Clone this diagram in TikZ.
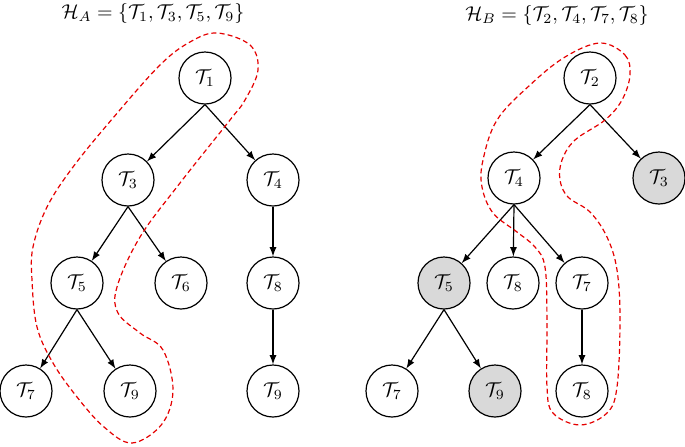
\documentclass[tikz,border=0pt]{standalone}
\usepackage{tikz}
\usepackage{amssymb}
\colorlet{hullred}{red!90!black}
\colorlet{shaded}{gray!30}
\tikzset{
  tnode/.style={circle, draw=black, semithick, minimum size=26pt, inner sep=1pt},
  tshade/.style={tnode, fill=shaded},
  tedge/.style={-latex, semithick},
  hull/.style={draw=hullred, semithick, dash pattern=on 2.5pt off 1.6pt},
}

\begin{document}
\begin{tikzpicture}[x=0.5pt, y=-0.5pt]
\useasboundingbox (0,0) rectangle (685,446);
% titles
\node (hA) at (153,13) {$\mathcal{H}_A=\{\mathcal{T}_1,\mathcal{T}_3,\mathcal{T}_5,\mathcal{T}_9\}$};
\node (hB) at (557,15) {$\mathcal{H}_B=\{\mathcal{T}_2,\mathcal{T}_4,\mathcal{T}_7,\mathcal{T}_8\}$};
% left tree
\node[tnode] (a1) at (205,78) {$\mathcal{T}_1$};
\node[tnode] (a3) at (128,180) {$\mathcal{T}_3$};
\node[tnode] (a4) at (273,180) {$\mathcal{T}_4$};
\node[tnode] (a5) at (77,283) {$\mathcal{T}_5$};
\node[tnode] (a6) at (181,283) {$\mathcal{T}_6$};
\node[tnode] (a8) at (273,283) {$\mathcal{T}_8$};
\node[tnode] (a7) at (26,391) {$\mathcal{T}_7$};
\node[tnode] (a9) at (130,391) {$\mathcal{T}_9$};
\node[tnode] (a9b) at (273,391) {$\mathcal{T}_9$};
\draw[tedge] (a1.south) -- (a3);
\draw[tedge] (a1.south) -- (a4);
\draw[tedge] (a3.south) -- (a5);
\draw[tedge] (a3.south) -- (a6);
\draw[tedge] (a4.south) -- (a8);
\draw[tedge] (a5.south) -- (a7);
\draw[tedge] (a5.south) -- (a9);
\draw[tedge] (a8.south) -- (a9b);
% right tree
\node[tnode] (b2) at (590,78) {$\mathcal{T}_2$};
\node[tnode] (b4) at (514,178) {$\mathcal{T}_4$};
\node[tshade] (b3) at (659,178) {$\mathcal{T}_3$};
\node[tshade] (b5) at (444,283) {$\mathcal{T}_5$};
\node[tnode] (b8) at (513,283) {$\mathcal{T}_8$};
\node[tnode] (b7) at (582,283) {$\mathcal{T}_7$};
\node[tnode] (b7b) at (392,391) {$\mathcal{T}_7$};
\node[tshade] (b9) at (495,391) {$\mathcal{T}_9$};
\node[tnode] (b8b) at (582,391) {$\mathcal{T}_8$};
\draw[tedge] (b2.south) -- (b4);
\draw[tedge] (b2.south) -- (b3);
\draw[tedge] (b4.south) -- (b5);
\draw[tedge] (b4.south) -- (b8);
\draw[tedge] (b4.south) -- (b7);
\draw[tedge] (b5.south) -- (b7b);
\draw[tedge] (b5.south) -- (b9);
\draw[tedge] (b7.south) -- (b8b);
% hulls
\draw[hull] plot[smooth cycle, tension=0.6] coordinates {
  (217,33) (250,45) (258,70) (245,100) (230,120) (180,183) (140,237)
  (117,287) (118,313) (140,333) (163,350) (173,390) (162,424)
  (132,443) (104,427) (77,397) (53,363) (37,327) (32,280) (33,247)
  (47,207) (73,167) (113,118) (160,65) (190,42)};
\draw[hull] plot[smooth cycle, tension=0.6] coordinates {
  (600,43) (625,55) (630,75) (622,100) (605,120) (575,140) (562,160)
  (560,180) (568,197) (590,212) (607,237) (617,270) (620,320) (617,387)
  (607,413) (580,425) (553,413) (547,387) (547,320) (545,267) (535,247)
  (517,232) (493,213) (482,187) (483,160) (497,120) (530,85) (565,57)};
\end{tikzpicture}
\end{document}
